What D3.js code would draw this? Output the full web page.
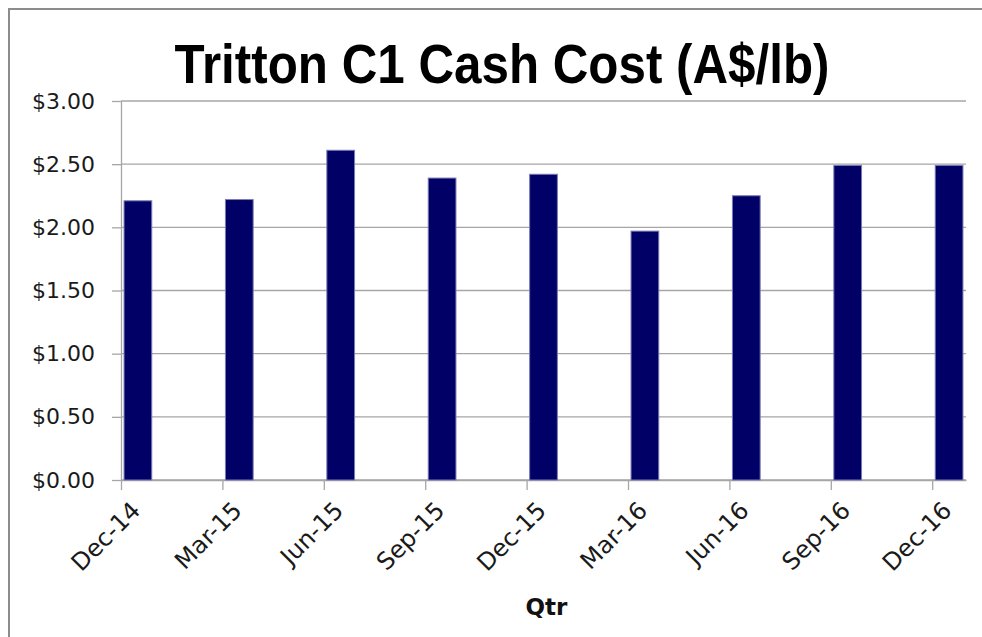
<!DOCTYPE html>
<html>
<head>
<meta charset="utf-8">
<script src="https://cdn.jsdelivr.net/npm/d3@7.9.0/dist/d3.min.js"></script>
<style>
  html, body { margin: 0; padding: 0; background: #fff; overflow: hidden; }
  svg { display: block; }
</style>
</head>
<body>
<svg id="chart" width="982" height="637"></svg>
<script>
// quarters shown on the axis, one bar each
const quarters = ["Dec-14", "Mar-15", "Jun-15", "Sep-15", "Dec-15", "Mar-16", "Jun-16", "Sep-16", "Dec-16"];
// C1 cash cost, A$/lb
const cashCost = [2.21, 2.22, 2.61, 2.39, 2.42, 1.97, 2.25, 2.49, 2.49];
// month offset of each quarter from Dec-14 (axis runs monthly)
const monthIndex = [0, 3, 6, 9, 12, 15, 18, 21, 24];
const yTicks = [0, 0.5, 1, 1.5, 2, 2.5, 3];

const svg = d3.select("#chart");
const plotLeft = 121, plotRight = 966, plotTop = 101, plotBottom = 480;
const labelFont = "'DejaVu Sans', sans-serif";

// outer frame: only its top and left edges fall inside the picture
svg.append("path")
    .attr("d", "M9,637V9H982")
    .attr("fill", "none")
    .attr("stroke", "#8c8c8c")
    .attr("stroke-width", 2);

const x = d3.scaleLinear().domain([0, 25]).range([plotLeft, plotRight]);
const y = d3.scaleLinear().domain([0, 3]).range([plotBottom, plotTop]);

// gridlines
svg.append("g")
    .selectAll("line")
    .data(yTicks)
    .join("line")
    .attr("x1", plotLeft).attr("x2", plotRight)
    .attr("y1", d => y(d)).attr("y2", d => y(d))
    .attr("stroke", "#a6a6a6")
    .attr("stroke-width", 1.3);

// y axis
const yAxis = svg.append("g")
    .attr("transform", `translate(${plotLeft},0)`)
    .call(d3.axisLeft(y).tickValues(yTicks).tickSize(9).tickSizeOuter(0).tickPadding(17)
        .tickFormat(d => "$" + d3.format(".2f")(d)));
yAxis.selectAll("line, path").attr("stroke", "#a6a6a6").attr("stroke-width", 1.3);
yAxis.selectAll("text")
    .attr("font-family", labelFont)
    .attr("font-size", 22)
    .attr("fill", "#1a1a1a");

// x axis: ticks at each quarter boundary
const xAxis = svg.append("g")
    .attr("transform", `translate(0,${plotBottom})`)
    .call(d3.axisBottom(x).tickValues(monthIndex).tickSize(10).tickSizeOuter(0).tickFormat(""));
xAxis.selectAll("line, path").attr("stroke", "#a6a6a6").attr("stroke-width", 1.3);

// bars sit in their month slot
svg.append("g")
    .selectAll("rect")
    .data(cashCost)
    .join("rect")
    .attr("x", (d, i) => x(monthIndex[i] + 0.09))
    .attr("width", x(0.82) - x(0))
    .attr("y", d => y(d))
    .attr("height", d => y(0) - y(d))
    .attr("fill", "#000066")
    .attr("stroke", "#7a7ab4")
    .attr("stroke-width", 1);

// rotated quarter labels
svg.append("g")
    .selectAll("text")
    .data(quarters)
    .join("text")
    .attr("transform", (d, i) => `translate(${x(monthIndex[i] + 0.5) + 4},${plotBottom + 32}) rotate(-45)`)
    .attr("text-anchor", "end")
    .attr("font-family", labelFont)
    .attr("font-size", 24)
    .attr("fill", "#1a1a1a")
    .text(d => d);

// axis title
svg.append("text")
    .attr("x", (plotLeft + plotRight) / 2 + 3)
    .attr("y", 615)
    .attr("text-anchor", "middle")
    .attr("font-family", labelFont)
    .attr("font-weight", "bold")
    .attr("font-size", 23)
    .attr("fill", "#111")
    .text("Qtr");

// chart title
svg.append("text")
    .attr("x", 502)
    .attr("y", 83)
    .attr("text-anchor", "middle")
    .attr("font-family", "'Liberation Sans Narrow', 'Liberation Sans', sans-serif")
    .attr("font-weight", "bold")
    .attr("font-size", 55)
    .attr("textLength", 655)
    .attr("lengthAdjust", "spacingAndGlyphs")
    .attr("fill", "#000")
    .text("Tritton C1 Cash Cost (A$/lb)");
</script>
</body>
</html>
